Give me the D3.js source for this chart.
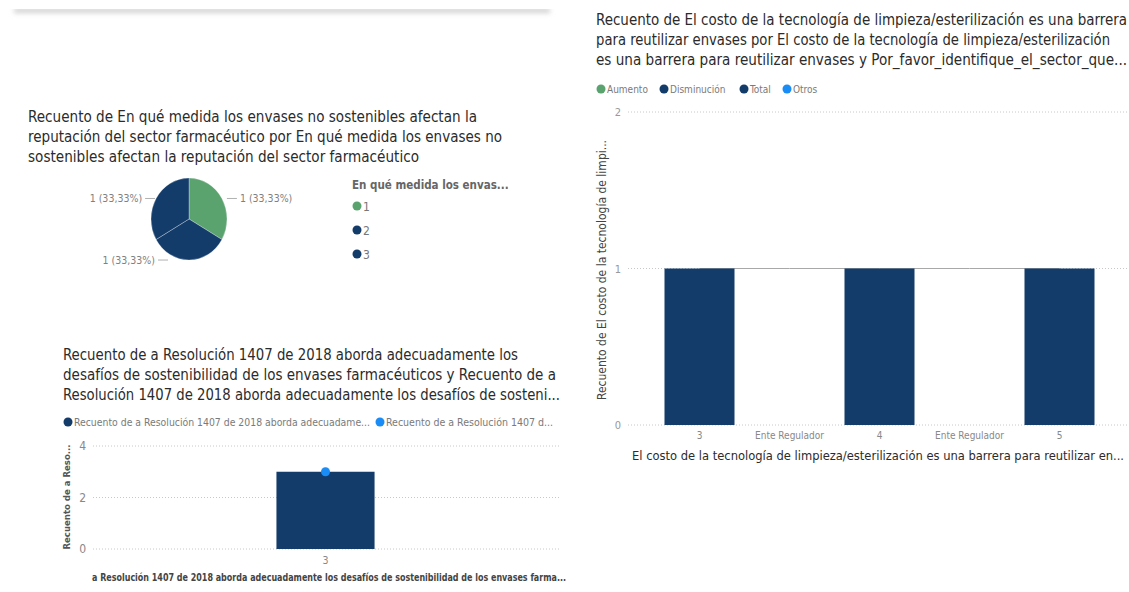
<!DOCTYPE html>
<meta charset="utf-8">
<style>
body {
  margin: 0;
  background: #fff;
}
svg text {
  font-family: "DejaVu Sans Condensed", "DejaVu Sans", sans-serif;
}
.grid line {
  stroke: #c8c8c8;
  stroke-dasharray: 1,2;
}
</style>
<svg></svg>
<script src="https://cdn.jsdelivr.net/npm/d3@7"></script>
<script>

// pie: En qué medida los envases no sostenibles afectan la reputación
var pieCategories = ["1", "2", "3"];
var pieValues = [1, 1, 1];
var pieTitle = [
  "Recuento de En qué medida los envases no sostenibles afectan la",
  "reputación del sector farmacéutico por En qué medida los envases no",
  "sostenibles afectan la reputación del sector farmacéutico"
];
var pieLegendTitle = "En qué medida los envas...";

// bar + line: Resolución 1407 de 2018
var resCategories = ["3"];
var resBarValues = [3];
var resLineValues = [3];
var resTicks = [0, 2, 4];
var resTitle = [
  "Recuento de a Resolución 1407 de 2018 aborda adecuadamente los",
  "desafíos de sostenibilidad de los envases farmacéuticos y Recuento de a",
  "Resolución 1407 de 2018 aborda adecuadamente los desafíos de sosteni..."
];
var resLegend = [
  "Recuento de a Resolución 1407 de 2018 aborda adecuadame...",
  "Recuento de a Resolución 1407 d..."
];
var resYTitle = "Recuento de a Reso...";
var resXTitle = "a Resolución 1407 de 2018 aborda adecuadamente los desafíos de sostenibilidad de los envases farma...";

// waterfall: costo de la tecnología de limpieza/esterilización
var wfCategories = ["3", "Ente Regulador", "4", "Ente Regulador", "5"];
var wfValues = [1, 0, 1, 0, 1];
var wfKinds = ["Total", "Otros", "Total", "Otros", "Total"];
var wfTicks = [0, 1, 2];
var wfLegend = ["Aumento", "Disminución", "Total", "Otros"];
var wfTitle = [
  "Recuento de El costo de la tecnología de limpieza/esterilización es una barrera",
  "para reutilizar envases por El costo de la tecnología de limpieza/esterilización",
  "es una barrera para reutilizar envases y Por_favor_identifique_el_sector_que..."
];
var wfYTitle = "Recuento de El costo de la tecnología de limpi...";
var wfXTitle = "El costo de la tecnología de limpieza/esterilización es una barrera para reutilizar en...";

var green = "#5aa26e", navy = "#133c6b", blue = "#1a8cf5";
var titleColor = "#2b2b2b", labelColor = "#808080";

var width = 1129, height = 592;

var svg = d3.select("svg")
    .attr("width", width)
    .attr("height", height);

// faint card shadow at the top
var defs = svg.append("defs");
defs.append("filter").attr("id", "blur")
    .attr("x", "-5%").attr("y", "-200%").attr("width", "110%").attr("height", "500%")
  .append("feGaussianBlur").attr("stdDeviation", 2.5);
svg.append("rect")
    .attr("x", 14).attr("y", 8).attr("width", 536).attr("height", 5)
    .attr("fill", "#d0d0d0")
    .attr("filter", "url(#blur)");
svg.append("rect")
    .attr("x", 0).attr("y", 0).attr("width", 560).attr("height", 9)
    .attr("fill", "#fff");

function title(lines, x, y, widths) {
  svg.append("g").selectAll("text")
      .data(lines)
    .enter().append("text")
      .attr("x", x)
      .attr("y", function(d, i) { return y + i * 20; })
      .attr("textLength", function(d, i) { return widths[i]; })
      .attr("lengthAdjust", "spacingAndGlyphs")
      .attr("font-size", 15)
      .attr("fill", titleColor)
      .text(function(d) { return d; });
}

// ---------- pie ----------
title(pieTitle, 28, 122, [449, 474, 391]);

var cx = 189, cy = 219, r = 38, squash = 1.08;
var pie = d3.pie().sort(null);
var arcs = pie(pieValues);
var arc = d3.arc().innerRadius(0).outerRadius(r);
var pieColor = d3.scaleOrdinal().domain(pieCategories).range([green, navy, navy]);

var gPie = svg.append("g")
    .attr("transform", "translate(" + cx + "," + cy + ") scale(1," + squash + ")");
gPie.selectAll("path")
    .data(arcs)
  .enter().append("path")
    .attr("d", arc)
    .attr("fill", function(d, i) { return pieColor(pieCategories[i]); })
    .attr("stroke", "#fff")
    .attr("stroke-opacity", 0.35)
    .attr("stroke-width", 0.8);

var total = d3.sum(pieValues);
var fmt = function(v) { return v + " (" + d3.format(".2f")(v / total * 100).replace(".", ",") + "%)"; };

arcs.forEach(function(d, i) {
  var mid = (d.startAngle + d.endAngle) / 2;
  var px = cx + Math.sin(mid) * r,
      py = cy - Math.cos(mid) * r * squash;
  var right = Math.sin(mid) > 0.01;
  var off = 14 + 20 * Math.max(0, -Math.cos(mid));
  var lx = right ? px + off + 4 : px - off;
  var dir = right ? -1 : 1;
  svg.append("line")
      .attr("x1", lx + dir * 3).attr("x2", lx + dir * 13)
      .attr("y1", py).attr("y2", py)
      .attr("stroke", "#b0b0b0");
  svg.append("text")
      .attr("x", lx)
      .attr("y", py + 4)
      .attr("text-anchor", right ? "start" : "end")
      .attr("font-size", 10.5)
      .attr("fill", labelColor)
      .text(fmt(pieValues[i]));
});

svg.append("text")
    .attr("x", 352).attr("y", 189)
    .attr("font-size", 11.5)
    .attr("font-weight", "bold")
    .attr("fill", "#666")
    .text(pieLegendTitle);

var pieLeg = svg.append("g").selectAll("g")
    .data(pieCategories)
  .enter().append("g")
    .attr("transform", function(d, i) { return "translate(357," + (206 + i * 24) + ")"; });
pieLeg.append("circle").attr("r", 4.5).attr("fill", function(d) { return pieColor(d); });
pieLeg.append("text")
    .attr("x", 6).attr("y", 4.5)
    .attr("font-size", 12)
    .attr("fill", "#777")
    .text(function(d) { return d; });

// ---------- bar + line ----------
title(resTitle, 63, 360, [455, 493, 497]);

var resLeg = svg.append("g").attr("font-size", 9.8).attr("fill", "#7a7a7a");
resLeg.append("circle").attr("cx", 68).attr("cy", 422).attr("r", 4.5).attr("fill", navy);
resLeg.append("text").attr("x", 74).attr("y", 425.5).text(resLegend[0])
    .attr("textLength", 296).attr("lengthAdjust", "spacingAndGlyphs");
resLeg.append("circle").attr("cx", 380).attr("cy", 422).attr("r", 4.5).attr("fill", blue);
resLeg.append("text").attr("x", 386).attr("y", 425.5).text(resLegend[1])
    .attr("textLength", 167).attr("lengthAdjust", "spacingAndGlyphs");

var resX = d3.scaleBand().domain(resCategories).range([91, 560]).padding(0.654);
var resY = d3.scaleLinear().domain([0, 4]).range([549, 446]);

svg.append("g").attr("class", "grid")
    .selectAll("line")
    .data(resTicks)
  .enter().append("line")
    .attr("x1", 93).attr("x2", 560)
    .attr("y1", function(d) { return resY(d); })
    .attr("y2", function(d) { return resY(d); });

svg.append("g")
    .attr("transform", "translate(86,0)")
    .call(d3.axisLeft(resY).tickValues(resTicks).tickSize(0).tickPadding(0)
      .tickFormat(d3.format("d")))
    .call(function(g) { g.select(".domain").remove(); })
    .selectAll("text")
    .attr("font-size", 12)
    .attr("fill", "#888");

svg.append("text")
    .attr("transform", "translate(70,497) rotate(-90)")
    .attr("text-anchor", "middle")
    .attr("font-size", 9.5)
    .attr("font-weight", "bold")
    .attr("fill", "#555")
    .text(resYTitle);

svg.append("g").selectAll("rect")
    .data(resBarValues)
  .enter().append("rect")
    .attr("x", function(d, i) { return resX(resCategories[i]); })
    .attr("width", resX.bandwidth())
    .attr("y", function(d) { return resY(d); })
    .attr("height", function(d) { return resY(0) - resY(d); })
    .attr("fill", navy);

svg.append("g").selectAll("circle")
    .data(resLineValues)
  .enter().append("circle")
    .attr("cx", function(d, i) { return resX(resCategories[i]) + resX.bandwidth() / 2; })
    .attr("cy", function(d) { return resY(d); })
    .attr("r", 4.5)
    .attr("fill", blue);

svg.append("g")
    .attr("transform", "translate(0,553)")
    .call(d3.axisBottom(resX).tickSize(0).tickPadding(4))
    .call(function(g) { g.select(".domain").remove(); })
    .selectAll("text")
    .attr("font-size", 10.5)
    .attr("fill", "#888");

svg.append("text")
    .attr("x", 92).attr("y", 581)
    .attr("font-size", 10)
    .attr("font-weight", "bold")
    .attr("fill", "#444")
    .attr("textLength", 474)
    .attr("lengthAdjust", "spacingAndGlyphs")
    .text(resXTitle);

// ---------- waterfall ----------
title(wfTitle, 596, 25, [531, 514, 531]);

var wfColor = d3.scaleOrdinal().domain(wfLegend).range([green, navy, navy, blue]);
var legX = [601, 664, 744, 787];
var wfLeg = svg.append("g").selectAll("g")
    .data(wfLegend)
  .enter().append("g")
    .attr("transform", function(d, i) { return "translate(" + legX[i] + ",89)"; });
wfLeg.append("circle").attr("r", 4.5).attr("fill", function(d) { return wfColor(d); });
wfLeg.append("text")
    .attr("x", 6).attr("y", 3.5)
    .attr("font-size", 10)
    .attr("fill", "#7a7a7a")
    .text(function(d) { return d; });

var idx = d3.range(wfCategories.length);
var wfX = d3.scaleBand().domain(idx).range([654.5, 1104.5])
    .paddingInner(2 / 9).paddingOuter(1 / 9);
var wfY = d3.scaleLinear().domain([0, 2]).range([425, 112]);

svg.append("g").attr("class", "grid")
    .selectAll("line")
    .data(wfTicks)
  .enter().append("line")
    .attr("x1", 628).attr("x2", 1129)
    .attr("y1", function(d) { return wfY(d); })
    .attr("y2", function(d) { return wfY(d); });

svg.append("g")
    .attr("transform", "translate(621,0)")
    .call(d3.axisLeft(wfY).tickValues(wfTicks).tickSize(0).tickPadding(0)
      .tickFormat(d3.format("d")))
    .call(function(g) { g.select(".domain").remove(); })
    .selectAll("text")
    .attr("font-size", 11)
    .attr("fill", "#999");

svg.append("text")
    .attr("transform", "translate(606,270) rotate(-90)")
    .attr("text-anchor", "middle")
    .attr("font-size", 12)
    .attr("fill", "#444")
    .text(wfYTitle);

// running level: totals reset, breakdown steps add
var level = 0, wfBars = [];
wfValues.forEach(function(v, i) {
  if (wfKinds[i] === "Total") { wfBars.push({ i: i, y0: 0, y1: v }); level = v; }
  else { wfBars.push({ i: i, y0: level, y1: level + v }); level += v; }
});

svg.append("g").selectAll("line")
    .data(wfBars.slice(0, -1))
  .enter().append("line")
    .attr("x1", function(d) { return wfX(d.i) + wfX.bandwidth() / 2; })
    .attr("x2", function(d) { return wfX(d.i + 1) + wfX.bandwidth() / 2; })
    .attr("y1", function(d) { return wfY(d.y1); })
    .attr("y2", function(d) { return wfY(d.y1); })
    .attr("stroke", "#a8a8a8")
    .attr("stroke-width", 1.2);

svg.append("g").selectAll("rect")
    .data(wfBars)
  .enter().append("rect")
    .attr("x", function(d) { return wfX(d.i); })
    .attr("width", wfX.bandwidth())
    .attr("y", function(d) { return wfY(Math.max(d.y0, d.y1)); })
    .attr("height", function(d) { return Math.abs(wfY(d.y0) - wfY(d.y1)); })
    .attr("fill", function(d) { return wfColor(wfKinds[d.i]); });

svg.append("g")
    .attr("transform", "translate(0,428)")
    .call(d3.axisBottom(wfX).tickSize(0).tickPadding(4)
      .tickFormat(function(i) { return wfCategories[i]; }))
    .call(function(g) { g.select(".domain").remove(); })
    .selectAll("text")
    .attr("font-size", 10)
    .attr("fill", "#888");

svg.append("text")
    .attr("x", 632).attr("y", 460)
    .attr("font-size", 13)
    .attr("fill", titleColor)
    .attr("textLength", 492)
    .attr("lengthAdjust", "spacingAndGlyphs")
    .text(wfXTitle);

</script>
